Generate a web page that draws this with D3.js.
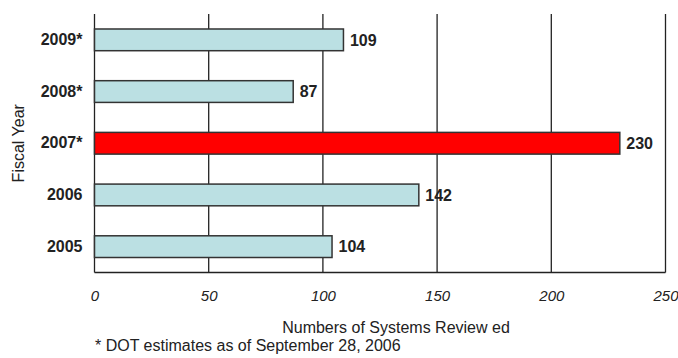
<!DOCTYPE html>
<html lang="en">
<head>
<meta charset="utf-8">
<title>Systems Reviewed by Fiscal Year</title>
<script src="https://cdnjs.cloudflare.com/ajax/libs/d3/7.8.5/d3.min.js"></script>
<style>
body { margin: 0; background: #fff; }
text { font-family: "Liberation Sans", Arial, sans-serif; fill: #222; }
</style>
</head>
<body>
<script>

var years = ["2009*", "2008*", "2007*", "2006", "2005"];
var counts = [109, 87, 230, 142, 104];
var highlight = ["2007*"];
var xTicks = [0, 50, 100, 150, 200, 250];

var width = 678, height = 358;
var plotLeft = 94.5, plotRight = 665.5, plotTop = 14, plotBottom = 272.5;

var svg = d3.select("body").append("svg")
	.attr("width", width)
	.attr("height", height);

var x = d3.scaleLinear().domain([0, 250]).range([plotLeft, plotRight]);
var y = d3.scaleBand().domain(years).range([plotTop, plotBottom]).paddingInner(0.58).paddingOuter(0.29);

// grid lines
svg.append("g")
	.selectAll("line")
	.data(xTicks)
	.enter()
	.append("line")
	.attr("x1", function(d){ return x(d); })
	.attr("x2", function(d){ return x(d); })
	.attr("y1", plotTop)
	.attr("y2", plotBottom)
	.style("stroke", "#222")
	.style("stroke-width", 1.3);

// bottom axis line
svg.append("line")
	.attr("x1", plotLeft).attr("x2", plotRight)
	.attr("y1", plotBottom).attr("y2", plotBottom)
	.style("stroke", "#222")
	.style("stroke-width", 1.5);

// x tick labels
var xAxis = d3.axisBottom(x).tickValues(xTicks).tickSize(0).tickPadding(18);
svg.append("g")
	.attr("transform", "translate(0," + plotBottom + ")")
	.call(xAxis)
	.call(function(g){ g.select(".domain").remove(); })
	.selectAll("text")
	.style("font-size", "15px")
	.style("font-style", "italic")
	.style("fill", "#222");

// y labels
var yAxis = d3.axisLeft(y).tickSize(0).tickPadding(12);
svg.append("g")
	.attr("transform", "translate(" + plotLeft + ",0)")
	.call(yAxis)
	.call(function(g){ g.select(".domain").remove(); })
	.selectAll("text")
	.style("font-size", "16px")
	.style("font-weight", "bold")
	.style("fill", "#222");

// bars
var rows = years.map(function(d, i){ return {year: d, value: counts[i]}; });

svg.append("g")
	.selectAll("rect")
	.data(rows)
	.enter()
	.append("rect")
	.attr("x", x(0))
	.attr("y", function(d){ return y(d.year); })
	.attr("width", function(d){ return x(d.value) - x(0); })
	.attr("height", y.bandwidth())
	.style("fill", function(d){
		return highlight.indexOf(d.year) >= 0 ? "#ff0000" : "#bbe0e3";
	})
	.style("stroke", "#333")
	.style("stroke-width", 1.5);

// value labels
svg.append("g")
	.selectAll("text")
	.data(rows)
	.enter()
	.append("text")
	.attr("x", function(d){ return x(d.value) + 6.5; })
	.attr("y", function(d){ return y(d.year) + y.bandwidth() / 2; })
	.attr("dy", "0.36em")
	.text(function(d){ return d.value; })
	.style("font-size", "16px")
	.style("font-weight", "bold");

// axis titles
svg.append("text")
	.attr("transform", "translate(24," + ((plotTop + plotBottom) / 2) + ") rotate(-90)")
	.attr("text-anchor", "middle")
	.text("Fiscal Year")
	.style("font-size", "16px");

svg.append("text")
	.attr("x", 396)
	.attr("y", 333)
	.attr("text-anchor", "middle")
	.text("Numbers of Systems Review ed")
	.style("font-size", "16px");

svg.append("text")
	.attr("x", 95)
	.attr("y", 351)
	.text("* DOT estimates as of September 28, 2006")
	.style("font-size", "16px");

</script>
</body>
</html>
